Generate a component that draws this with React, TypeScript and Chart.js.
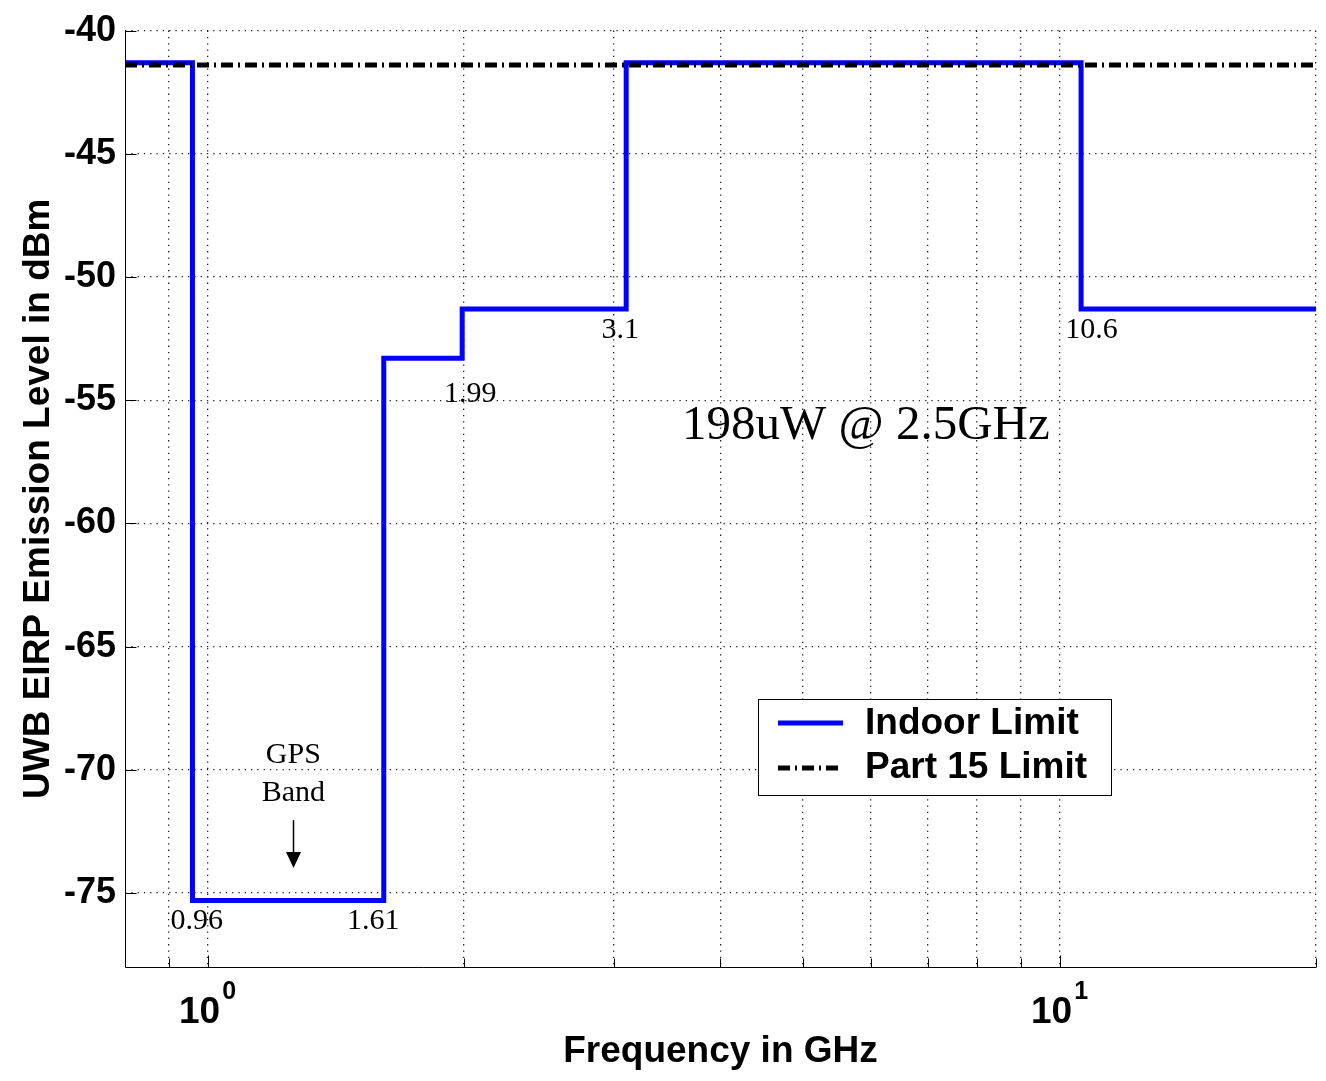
import React, { useEffect, useRef } from 'react';
import { Chart, registerables } from 'chart.js';

Chart.register(...registerables);

// ---- data ----
const indoorFreqGHz = [0.8, 0.96, 1.61, 1.99, 3.1, 10.6, 20];
const indoorLevelDbm = [-41.3, -75.3, -53.3, -51.3, -41.3, -51.3, -51.3];
const part15FreqGHz = [0.8, 20];
const part15LevelDbm = [-41.4, -41.4];

const xGridTicks = [0.9, 1, 2, 3, 4, 5, 6, 7, 8, 9, 10, 20];
const xDecadeValues = [1, 10];
const xDecadeExponents = ['0', '1'];
const yTicks = [-75, -70, -65, -60, -55, -50, -45, -40];

const seriesLabels = ['Indoor Limit', 'Part 15 Limit'];

const noteTexts = ['0.96', '1.61', '1.99', '3.1', '10.6', 'GPS', 'Band'];
const noteFreqGHz = [0.971, 1.565, 2.034, 3.05, 10.9, 1.261, 1.261];
const noteLevelDbm = [-76.13, -76.13, -54.74, -52.15, -52.15, -69.4, -70.94];

const bigNoteText = '198uW @ 2.5GHz';
const bigNoteFreqGHz = 5.925;
const bigNoteLevelDbm = -56.04;

const arrowFreqGHz = 1.261;
const arrowFromDbm = -72.04;
const arrowToDbm = -73.98;

const SANS = "'Liberation Sans', Arial, Helvetica, sans-serif";
const SERIF = "'Liberation Serif', 'Times New Roman', serif";

const overlayPlugin = {
  id: 'overlay',
  afterDraw(chart: any) {
    const { ctx, chartArea } = chart;
    const x = chart.scales.x;
    const y = chart.scales.y;
    ctx.save();
    ctx.setLineDash([]);
    ctx.strokeStyle = '#000';
    ctx.lineWidth = 1;

    const seg = (x1: number, y1: number, x2: number, y2: number) => {
      ctx.beginPath();
      ctx.moveTo(x1, y1);
      ctx.lineTo(x2, y2);
      ctx.stroke();
    };

    // axis lines
    const L = Math.round(chartArea.left) + 0.5;
    const B = Math.round(chartArea.bottom) + 0.5;
    seg(L, chartArea.top, L, B);
    seg(L, B, chartArea.right, B);

    // inward ticks
    for (const v of yTicks) {
      const py = Math.round(y.getPixelForValue(v)) + 0.5;
      seg(L, py, L + 11, py);
    }
    for (const v of xGridTicks) {
      const px = Math.round(x.getPixelForValue(v)) + 0.5;
      const major = xDecadeValues.includes(v);
      seg(px, B, px, B - (major ? 12 : 9));
    }

    // decade labels 10^n
    ctx.fillStyle = '#000';
    ctx.textBaseline = 'alphabetic';
    ctx.textAlign = 'left';
    xDecadeValues.forEach((v, i) => {
      const px = x.getPixelForValue(v);
      ctx.font = `bold 37px ${SANS}`;
      const w1 = ctx.measureText('10').width;
      ctx.font = `bold 25px ${SANS}`;
      const w2 = ctx.measureText(xDecadeExponents[i]).width;
      const start = px - (w1 + 2 + w2) / 2;
      ctx.font = `bold 37px ${SANS}`;
      ctx.fillText('10', start, chartArea.bottom + 56);
      ctx.font = `bold 25px ${SANS}`;
      ctx.fillText(xDecadeExponents[i], start + w1 + 2, chartArea.bottom + 32);
    });

    // annotations
    ctx.textAlign = 'center';
    ctx.textBaseline = 'middle';
    ctx.font = `30px ${SERIF}`;
    noteTexts.forEach((t, i) => {
      ctx.fillText(t, x.getPixelForValue(noteFreqGHz[i]), y.getPixelForValue(noteLevelDbm[i]));
    });
    ctx.font = `49px ${SERIF}`;
    ctx.fillText(bigNoteText, x.getPixelForValue(bigNoteFreqGHz), y.getPixelForValue(bigNoteLevelDbm));

    // arrow
    const ax = Math.round(x.getPixelForValue(arrowFreqGHz)) + 0.5;
    const ay1 = y.getPixelForValue(arrowFromDbm);
    const ay2 = y.getPixelForValue(arrowToDbm);
    ctx.lineWidth = 1.5;
    seg(ax, ay1, ax, ay2 - 14);
    ctx.beginPath();
    ctx.moveTo(ax - 7.5, ay2 - 16);
    ctx.lineTo(ax + 7.5, ay2 - 16);
    ctx.lineTo(ax, ay2);
    ctx.closePath();
    ctx.fill();

    // legend
    const bx = 758.5, by = 699.5, bw = 353, bh = 96;
    ctx.fillStyle = '#fff';
    ctx.fillRect(bx, by, bw, bh);
    ctx.lineWidth = 1;
    ctx.strokeStyle = '#000';
    ctx.strokeRect(bx, by, bw, bh);

    ctx.lineWidth = 5;
    ctx.strokeStyle = '#0000ff';
    seg(778, 723, 843, 723);
    ctx.strokeStyle = '#000';
    ctx.setLineDash([12, 5, 2, 5]);
    seg(778, 768, 843, 768);
    ctx.setLineDash([]);

    ctx.fillStyle = '#000';
    ctx.font = `bold 37px ${SANS}`;
    ctx.textAlign = 'left';
    ctx.textBaseline = 'middle';
    ctx.fillText(seriesLabels[0], 865, 724);
    ctx.fillText(seriesLabels[1], 865, 768);

    ctx.restore();
  },
};

export default function App() {
  const canvasRef = useRef<HTMLCanvasElement>(null);

  useEffect(() => {
    if (!canvasRef.current) return;
    const gridColor = '#222';
    const chart = new Chart(canvasRef.current, {
      type: 'line',
      data: {
        datasets: [
          {
            label: seriesLabels[1],
            data: part15FreqGHz.map((f, i) => ({ x: f, y: part15LevelDbm[i] })),
            borderColor: '#000',
            borderWidth: 5,
            borderDash: [12, 5, 2, 5],
            pointRadius: 0,
            fill: false,
          },
          {
            label: seriesLabels[0],
            data: indoorFreqGHz.map((f, i) => ({ x: f, y: indoorLevelDbm[i] })),
            borderColor: '#0000ff',
            borderWidth: 5,
            stepped: true,
            pointRadius: 0,
            fill: false,
            borderJoinStyle: 'miter',
            borderCapStyle: 'butt',
          },
        ],
      },
      options: {
        animation: false,
        responsive: true,
        maintainAspectRatio: false,
        layout: { padding: { top: 29, right: 10, left: 0, bottom: 0 } },
        plugins: { legend: { display: false }, tooltip: { enabled: false } },
        scales: {
          x: {
            type: 'logarithmic',
            min: 0.8,
            max: 20,
            afterBuildTicks: (s: any) => {
              s.ticks = xGridTicks.map((v) => ({ value: v }));
            },
            afterFit: (s: any) => {
              s.height = 114;
            },
            ticks: { display: false },
            grid: { color: gridColor, lineWidth: 1.3, drawTicks: false },
            border: { display: false, dash: [1.3, 5] },
            title: {
              display: true,
              text: 'Frequency in GHz',
              color: '#000',
              font: { family: SANS, size: 37, weight: 'bold' },
              padding: { top: 0, bottom: 7 },
            },
          },
          y: {
            type: 'linear',
            min: -78,
            max: -40,
            afterBuildTicks: (s: any) => {
              s.ticks = yTicks.map((v) => ({ value: v }));
            },
            afterFit: (s: any) => {
              s.width = 125;
            },
            ticks: {
              color: '#000',
              padding: 9,
              font: { family: SANS, size: 36, weight: 'bold' },
            },
            grid: { color: gridColor, lineWidth: 1.3, drawTicks: false },
            border: { display: false, dash: [1.3, 5] },
            title: {
              display: true,
              text: 'UWB EIRP Emission Level in dBm',
              color: '#000',
              font: { family: SANS, size: 37, weight: 'bold' },
              padding: { top: 17, bottom: 0 },
            },
          },
        },
      },
      plugins: [overlayPlugin],
    } as any);
    return () => chart.destroy();
  }, []);

  return (
    <div style={{ position: 'absolute', left: 0, top: 0, width: 1326, height: 1081, background: '#fff' }}>
      <canvas ref={canvasRef} />
    </div>
  );
}
